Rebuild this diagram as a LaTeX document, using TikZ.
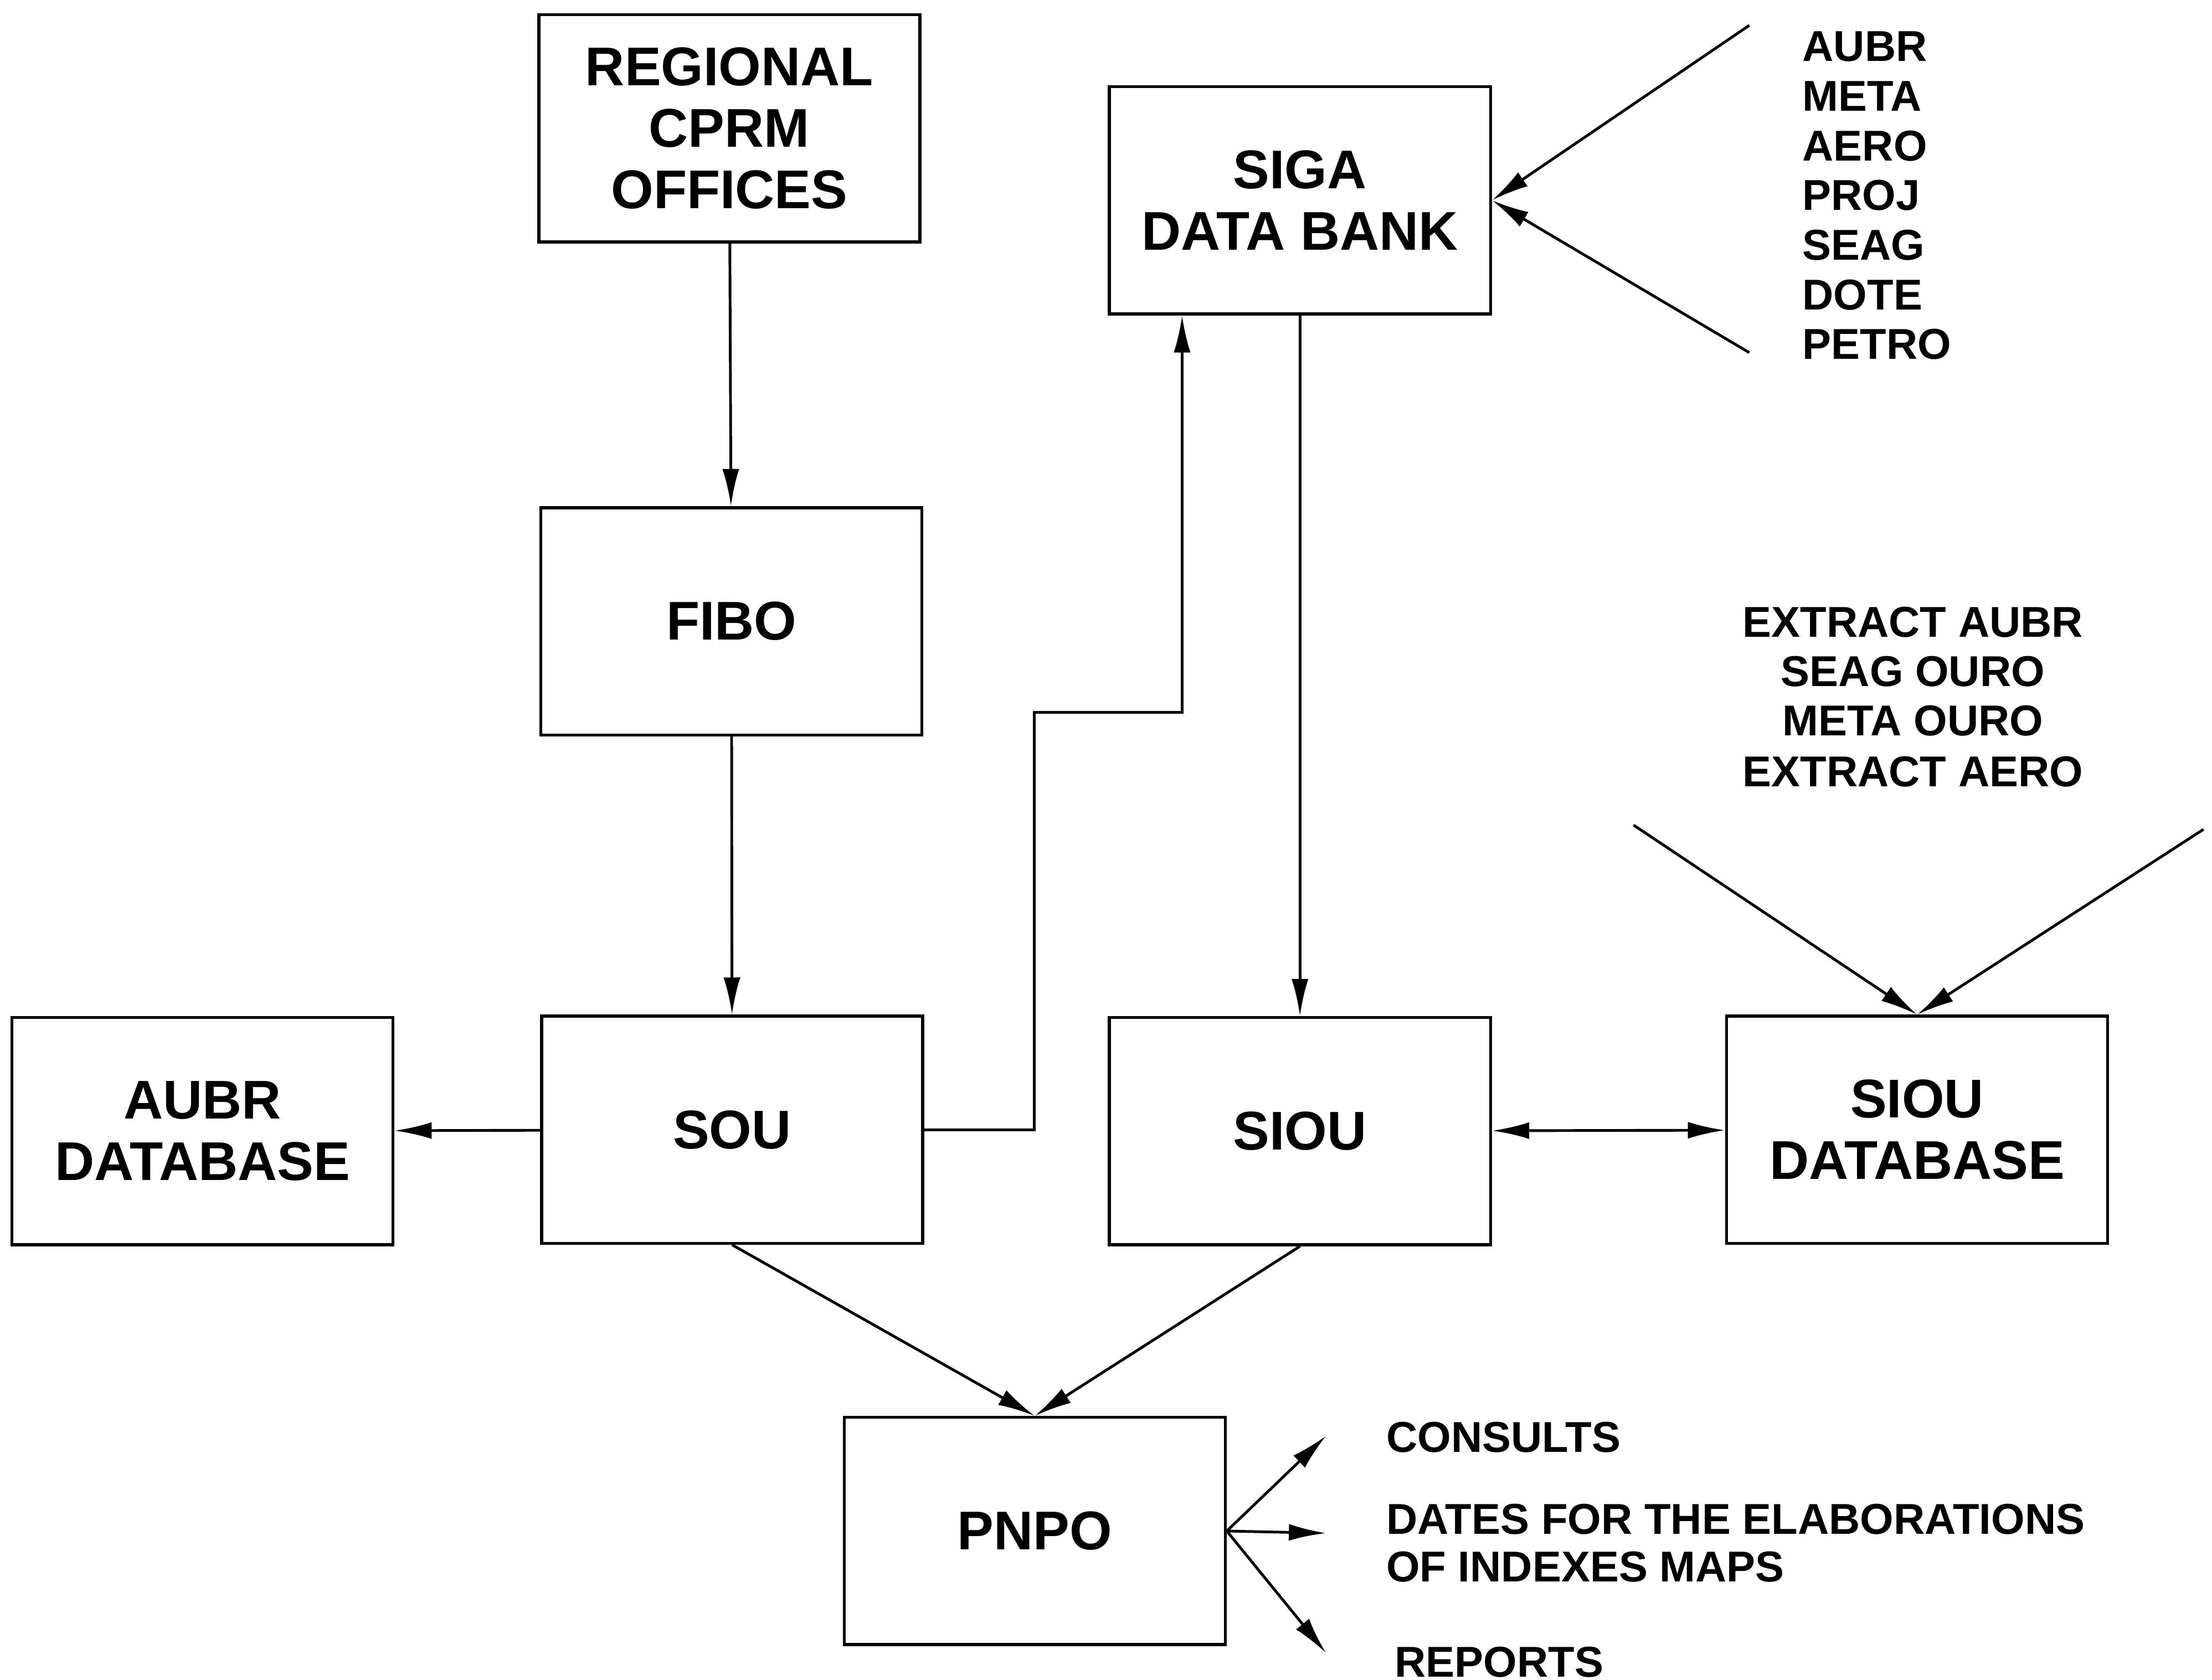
\documentclass[tikz,border=0pt]{standalone}
\usepackage{fontspec}
\setmainfont{Liberation Sans}
\usetikzlibrary{arrows.meta}

\begin{document}
\begin{tikzpicture}[x=0.01cm,y=-0.01cm,
  box/.style={draw,line width=0.6pt,minimum width=2.7cm,minimum height=1.61cm,
    align=center,inner sep=0pt,font=\fontsize{11}{12.4}\selectfont\bfseries},
  lbl/.style={inner sep=0pt,font=\fontsize{8.7}{10}\selectfont\bfseries},
  arr/.style={line width=0.55pt,-{Latex[length=7.5pt,width=3.4pt]}},
  darr/.style={line width=0.55pt,{Latex[length=7.5pt,width=3.4pt]}-{Latex[length=7.5pt,width=3.4pt]}}]
  \useasboundingbox (0,0) rectangle (1568,1191);

  % boxes
  \node[box] (reg)    at (517,91)     {REGIONAL\\CPRM\\OFFICES};
  \node[box] (fibo)   at (518.5,440.5) {FIBO};
  \node[box] (sou)    at (519,801)    {SOU};
  \node[box] (aubr)   at (143.5,802)  {AUBR\\DATABASE};
  \node[box] (siga)   at (921.5,142)  {SIGA\\DATA BANK};
  \node[box] (siou)   at (921.5,802)  {SIOU};
  \node[box] (sioudb) at (1359,801)   {SIOU\\DATABASE};
  \node[box] (pnpo)   at (733.5,1085.5) {PNPO};

  % sources of the data bank
  \foreach \y/\lab [count=\i] in {43.5/AUBR,78.7/META,113.9/AERO,149.1/PROJ,
      184.3/SEAG,219.5/DOTE,254.7/PETRO}{
    \node[lbl,anchor=base west] (src\i) at (1277,\y) {\lab};
  }
  \foreach \y/\lab [count=\i] in {451.5/EXTRACT AUBR,486.5/SEAG OURO,
      521.5/META OURO,557.5/EXTRACT AERO}{
    \node[lbl,anchor=base] (ext\i) at (1356,\y) {\lab};
  }

  % outputs
  \node[lbl,anchor=base west] (out1) at (982,1029.5) {CONSULTS};
  \node[lbl,anchor=base west] (out2) at (982,1087.5) {DATES FOR THE ELABORATIONS};
  \node[lbl,anchor=base west] (out3) at (982,1121.5) {OF INDEXES MAPS};
  \node[lbl,anchor=base west] (out4) at (988,1189) {REPORTS};

  % free ends
  \coordinate (in1) at (1240,18);
  \coordinate (in2) at (1240,250);
  \coordinate (in3) at (1158,585);
  \coordinate (in4) at (1562,588);
  \coordinate (k1)  at (733,505);
  \coordinate (e1)  at (940,1018);
  \coordinate (e2)  at (940,1087);
  \coordinate (e3)  at (940,1172);

  % connectors
  \draw[arr] (reg) -- (fibo);
  \draw[arr] (fibo) -- (sou);
  \draw[arr] (sou) -- (aubr);
  \draw[arr] (sou.east) -| (k1) -| ([xshift=-0.835cm]siga.south);
  \draw[arr] (siga.south) -- (siou.north);
  \draw[darr] (siou) -- (sioudb);
  \draw[arr] (in1) -- (siga.east);
  \draw[arr] (in2) -- (siga.east);
  \draw[arr] (in3) -- (sioudb.north);
  \draw[arr] (in4) -- (sioudb.north);
  \draw[arr] (sou.south) -- (pnpo.north);
  \draw[arr] (siou.south) -- (pnpo.north);
  \draw[arr] (pnpo.east) -- (e1);
  \draw[arr] (pnpo.east) -- (e2);
  \draw[arr] (pnpo.east) -- (e3);
\end{tikzpicture}
\end{document}
